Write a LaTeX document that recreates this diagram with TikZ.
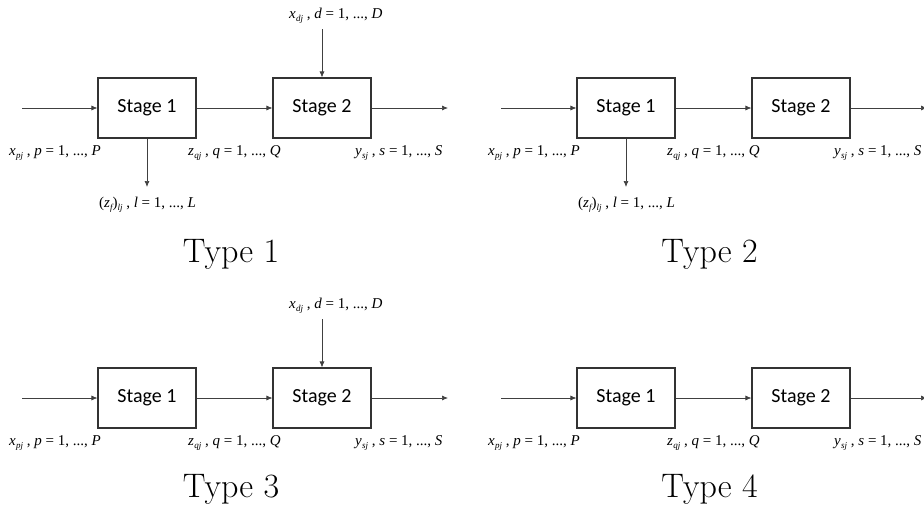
\documentclass[tikz,border=0pt]{standalone}
\usepackage{fontspec}
\newfontfamily\stagefont{Carlito}
\newfontfamily\tms{Liberation Serif}
\usetikzlibrary{arrows.meta}
\newcommand\subtx[1]{\raisebox{-3.5pt}{\fontsize{9}{10}\selectfont\itshape #1}}
\newcommand\mylbl[4]{{\itshape #1}\kern0.3pt\subtx{#2} , {\itshape #3} = 1, ..., {\itshape #4}}
\tikzset{
  stagebox/.style={draw=black!80, line width=1.1pt, minimum width=98pt, minimum height=60pt, inner sep=0pt, font=\stagefont\fontsize{20}{24}\selectfont},
  arr/.style={draw=black!75, line width=0.7pt, -{Latex[length=6pt,width=5pt]}},
  lab/.style={anchor=base west, inner sep=0pt, font=\tms\fontsize{15}{18}\selectfont},
  title/.style={anchor=base, inner sep=0pt, font=\fontsize{34}{40}\selectfont},
}
\begin{document}
\begin{tikzpicture}[x=1pt,y=-1pt]
\useasboundingbox (0,0) rectangle (924,509);
% ---------- Type 1 ----------
\node[stagebox] (a1) at (147,108) {Stage 1};
\node[stagebox] (a2) at (322,108) {Stage 2};
\coordinate (ain) at (22,108);
\coordinate (aout) at (448,108);
\coordinate (atop) at (322,29);
\coordinate (adown) at (147,187);
\draw[arr] (ain) -- (a1.west);
\draw[arr] (a1) -- (a2);
\draw[arr] (a2.east) -- (aout);
\draw[arr] (atop) -- (a2.north);
\draw[arr] (a1.south) -- (adown);
\node[lab] (ap) at (9,155) {\mylbl{x}{pj}{p}{P}};
\node[lab] (aq) at (188,155) {\mylbl{z}{qj}{q}{Q}};
\node[lab] (as) at (355,155) {\mylbl{y}{sj}{s}{S}};
\node[lab] (ad) at (289,18) {\mylbl{x}{dj}{d}{D}};
\node[lab] (al) at (99,207) {({\itshape z}\subtx{f})\subtx{lj} , {\itshape l} = 1, ..., {\itshape L}};
\node[title] (at) at (231,262) {Type 1};
% ---------- Type 2 ----------
\begin{scope}[shift={(479,0)}]
\node[stagebox] (b1) at (147,108) {Stage 1};
\node[stagebox] (b2) at (322,108) {Stage 2};
\coordinate (bin) at (22,108);
\coordinate (bout) at (448,108);
\coordinate (bdown) at (147,187);
\draw[arr] (bin) -- (b1.west);
\draw[arr] (b1) -- (b2);
\draw[arr] (b2.east) -- (bout);
\draw[arr] (b1.south) -- (bdown);
\node[lab] (bp) at (9,155) {\mylbl{x}{pj}{p}{P}};
\node[lab] (bq) at (188,155) {\mylbl{z}{qj}{q}{Q}};
\node[lab] (bs) at (355,155) {\mylbl{y}{sj}{s}{S}};
\node[lab] (bl) at (99,207) {({\itshape z}\subtx{f})\subtx{lj} , {\itshape l} = 1, ..., {\itshape L}};
\node[title] (bt) at (230.5,262) {Type 2};
\end{scope}
% ---------- Type 3 ----------
\begin{scope}[shift={(0,290)}]
\node[stagebox] (c1) at (147,108) {Stage 1};
\node[stagebox] (c2) at (322,108) {Stage 2};
\coordinate (cin) at (22,108);
\coordinate (cout) at (448,108);
\coordinate (ctop) at (322,29);
\draw[arr] (cin) -- (c1.west);
\draw[arr] (c1) -- (c2);
\draw[arr] (c2.east) -- (cout);
\draw[arr] (ctop) -- (c2.north);
\node[lab] (cp) at (9,155) {\mylbl{x}{pj}{p}{P}};
\node[lab] (cq) at (188,155) {\mylbl{z}{qj}{q}{Q}};
\node[lab] (cs) at (355,155) {\mylbl{y}{sj}{s}{S}};
\node[lab] (cd) at (289,18) {\mylbl{x}{dj}{d}{D}};
\node[title] (ct) at (231,207) {Type 3};
\end{scope}
% ---------- Type 4 ----------
\begin{scope}[shift={(479,290)}]
\node[stagebox] (d1) at (147,108) {Stage 1};
\node[stagebox] (d2) at (322,108) {Stage 2};
\coordinate (din) at (22,108);
\coordinate (dout) at (448,108);
\draw[arr] (din) -- (d1.west);
\draw[arr] (d1) -- (d2);
\draw[arr] (d2.east) -- (dout);
\node[lab] (dp) at (9,155) {\mylbl{x}{pj}{p}{P}};
\node[lab] (dq) at (188,155) {\mylbl{z}{qj}{q}{Q}};
\node[lab] (ds) at (355,155) {\mylbl{y}{sj}{s}{S}};
\node[title] (dt) at (230.5,207) {Type 4};
\end{scope}
\end{tikzpicture}
\end{document}
